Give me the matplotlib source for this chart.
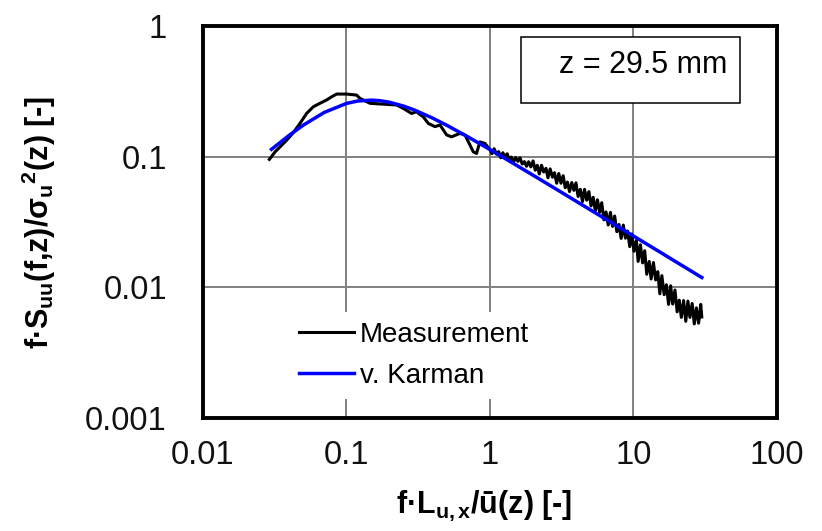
import matplotlib
matplotlib.use("Agg")
import matplotlib.pyplot as plt
from matplotlib.patches import Rectangle
from matplotlib.ticker import FixedLocator, FixedFormatter, NullLocator

plt.rcParams["font.family"] = ["Liberation Sans", "DejaVu Sans"]
plt.rcParams["mathtext.fontset"] = "custom"
plt.rcParams["mathtext.rm"] = "Liberation Sans"
plt.rcParams["mathtext.bf"] = "Liberation Sans:bold"
plt.rcParams["mathtext.it"] = "Liberation Sans:italic"

# =========================
# Data
# =========================
# measured spectrum, reduced frequency f*L/u
meas_f = [
    0.029, 0.0318, 0.0344, 0.0383, 0.0426, 0.0474, 0.0528, 0.0588, 0.0653, 0.0727,
    0.0789, 0.0855, 0.1, 0.1178, 0.124, 0.146, 0.18, 0.224, 0.249, 0.284,
    0.308, 0.343, 0.372, 0.414, 0.449, 0.499, 0.54, 0.618, 0.67, 0.766,
    0.807, 0.851, 0.923,
    1.00, 1.035, 1.07, 1.11, 1.15, 1.19, 1.23, 1.27, 1.32, 1.36,
    1.41, 1.46, 1.51, 1.57, 1.62, 1.68, 1.74, 1.80, 1.86, 1.93,
    2.00, 2.07, 2.14, 2.21, 2.29, 2.37, 2.46, 2.54, 2.63, 2.73,
    2.82, 2.92, 3.02, 3.13, 3.24, 3.35, 3.47, 3.59, 3.72, 3.85,
    3.98, 4.12, 4.27, 4.42, 4.57, 4.73, 4.90, 5.07, 5.25, 5.43,
    5.62, 5.82, 6.02, 6.23, 6.45, 6.68, 6.92, 7.16, 7.41, 7.67,
    7.94, 8.22, 8.51, 8.81, 9.12, 9.44, 9.77, 10.1, 10.5, 10.8,
    11.2, 11.6, 12.0, 12.4, 12.9, 13.3, 13.8, 14.3, 14.8, 15.3,
    15.8, 16.4, 17.0, 17.6, 18.2, 18.8, 19.5, 20.2, 20.9, 21.6,
    22.4, 23.2, 24.0, 24.8, 25.7, 26.6, 27.5, 28.5, 29.5, 30.0,
]
# normalised spectrum f*S/sigma^2
meas_s = [
    0.0955, 0.109, 0.119, 0.134, 0.153, 0.180, 0.215, 0.2415, 0.2565, 0.272,
    0.288, 0.302, 0.302, 0.2965, 0.280, 0.2565, 0.253, 0.249, 0.2345, 0.2145,
    0.221, 0.202, 0.180, 0.170, 0.175, 0.147, 0.142, 0.151, 0.147, 0.109,
    0.106, 0.130, 0.1265,
    0.1135, 0.1056, 0.1153, 0.1048, 0.1094, 0.0983, 0.1074, 0.0999, 0.1054, 0.0951,
    0.0995, 0.0907, 0.0988, 0.0922, 0.0982, 0.0880, 0.0918, 0.0845, 0.0916, 0.0837,
    0.0929, 0.0789, 0.0860, 0.0738, 0.0861, 0.0764, 0.0815, 0.0690, 0.0807, 0.0697,
    0.0755, 0.0627, 0.0744, 0.0627, 0.0716, 0.0579, 0.0640, 0.0541, 0.0635, 0.0553,
    0.0631, 0.0496, 0.0563, 0.0454, 0.0563, 0.0465, 0.0541, 0.0420, 0.0489, 0.0384,
    0.0468, 0.0376, 0.0445, 0.0329, 0.0378, 0.0300, 0.0375, 0.0293, 0.0352, 0.0267,
    0.0303, 0.0237, 0.0300, 0.0238, 0.0270, 0.0205, 0.0256, 0.0189, 0.0229, 0.0158,
    0.0212, 0.0154, 0.0191, 0.0126, 0.0158, 0.0116, 0.0155, 0.0114, 0.0132, 0.00893,
    0.0123, 0.00879, 0.01047, 0.00741, 0.01028, 0.00745, 0.00955, 0.00650, 0.00798, 0.00589,
    0.00793, 0.00550, 0.00785, 0.00589, 0.00753, 0.00525, 0.00697, 0.00532, 0.00741, 0.00594,
]

# von Karman curve
vk_f = [0.03, 0.04, 0.05, 0.07, 0.1, 0.12, 0.15, 0.17, 0.2, 0.25, 0.3, 0.4,
        0.5, 0.7, 1, 1.5, 2, 3, 5, 7, 10, 15, 20, 30]
vk_s = [0.114, 0.1463, 0.1746, 0.2185, 0.256, 0.2672, 0.2712, 0.2688, 0.2612,
        0.2443, 0.2271, 0.1973, 0.1742, 0.1423, 0.1136, 0.0872, 0.0722, 0.0552,
        0.0393, 0.0314, 0.02476, 0.0189, 0.0156, 0.0119]

xticks = [0.01, 0.1, 1, 10, 100]
xtick_labels = ["0.01", "0.1", "1", "10", "100"]
yticks = [0.001, 0.01, 0.1, 1]
ytick_labels = ["0.001", "0.01", "0.1", "1"]

# =========================
# Plotting
# =========================
fig = plt.figure(figsize=(8.22, 5.31), dpi=100)
ax = fig.add_axes([0.247, 0.2128, 0.698, 0.738])
ax.set_xscale("log")
ax.set_yscale("log")
ax.set_xlim(0.01, 100)
ax.set_ylim(0.001, 1)

ax.plot(meas_f, meas_s, color="black", lw=2.2, label="Measurement")
ax.plot(vk_f, vk_s, color="#0000ff", lw=2.5, label="v. Karman")

ax.xaxis.set_major_locator(FixedLocator(xticks))
ax.xaxis.set_major_formatter(FixedFormatter(xtick_labels))
ax.yaxis.set_major_locator(FixedLocator(yticks))
ax.yaxis.set_major_formatter(FixedFormatter(ytick_labels))
ax.xaxis.set_minor_locator(NullLocator())
ax.yaxis.set_minor_locator(NullLocator())

ax.grid(True, which="major", color="#808080", lw=1.4)
ax.set_axisbelow(True)
ax.tick_params(length=0, labelsize=23.5, labelcolor="#111111")
ax.tick_params(axis="y", pad=26)
ax.tick_params(axis="x", pad=16)
for sp in ax.spines.values():
    sp.set_linewidth(2.8)

ax.set_xlabel("f·L$_{\\mathbf{u,x}}$/ū(z) [-]", fontsize=22, fontweight="bold")
ax.xaxis.set_label_coords(0.49, -0.18)
ax.set_ylabel("f·S$_{\\mathbf{uu}}$(f,z)/σ$_{\\mathbf{u}}$$^{\\mathbf{2}}$(z) [-]",
              fontsize=22, fontweight="bold")
ax.yaxis.set_label_coords(-0.253, 0.5)

# height annotation box
ax.add_patch(Rectangle((0.554, 0.805), 0.3815, 0.166, transform=ax.transAxes,
                       facecolor="white", edgecolor="black", lw=1.1, zorder=3))
ax.text(0.767, 0.901, "z = 29.5 mm", transform=ax.transAxes, ha="center",
        va="center", fontsize=22, zorder=4)

leg = ax.legend(loc="upper left", bbox_to_anchor=(0.15, 0.2704), frameon=True,
                fontsize=20, handlelength=2.0, handletextpad=0.2,
                labelspacing=0.55, borderpad=0.35, borderaxespad=0,
                fancybox=False, framealpha=1)
leg.get_frame().set_facecolor("white")
leg.get_frame().set_edgecolor("none")

fig.savefig("out.png", dpi=100)
